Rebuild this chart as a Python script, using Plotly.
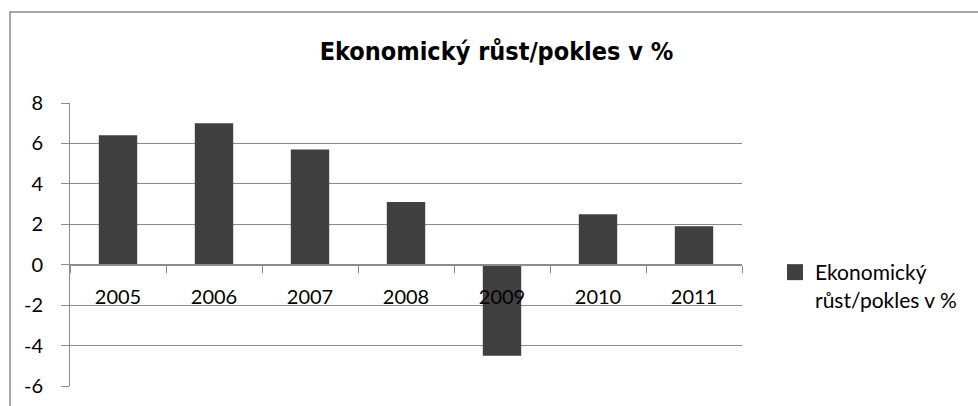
import plotly.graph_objects as go

years = ["2005", "2006", "2007", "2008", "2009", "2010", "2011"]
growth = [6.4, 7.0, 5.7, 3.1, -4.5, 2.5, 1.9]
series_name = "Ekonomický<br>růst/pokles v %"
title_text = "Ekonomický růst/pokles v %"
y_ticks = [-6, -4, -2, 0, 2, 4, 6, 8]
y_tick_text = ["-6", "-4", "-2", "0", "2", "4", "6", "8"]

W, H = 978, 406
L, R, T, B = 70, 236, 103, 20
pw, ph = W - L - R, H - T - B

fig = go.Figure()
fig.add_trace(go.Bar(
    x=years, y=growth, name=series_name,
    marker=dict(color="#404040", line=dict(width=0)),
    showlegend=False,
))
# legend entry with a larger square swatch
fig.add_trace(go.Scatter(
    x=[None], y=[None], mode="markers", name=series_name,
    marker=dict(symbol="square", size=16, color="#404040"),
    showlegend=True,
))

ymin, ymax = -6, 8
grid_c = "#8c8c8c"
fig.update_layout(
    width=W, height=H,
    margin=dict(l=L, r=R, t=T, b=B, autoexpand=False),
    paper_bgcolor="white", plot_bgcolor="white",
    bargap=0.6,
    font=dict(family="Lato, Open Sans, sans-serif", size=20, color="#000000"),
    title=dict(text="<b>" + title_text + "</b>", x=(320 + 673) / 2 / W, xanchor="center",
               y=1 - 51 / H, yanchor="middle",
               font=dict(family="DejaVu Sans Condensed, Liberation Sans Narrow, sans-serif", size=25)),
    xaxis=dict(
        type="category", anchor="free",
        position=(0 - ymin) / (ymax - ymin),
        showline=True, linecolor=grid_c, linewidth=2,
        ticks="outside", ticklen=7, tickcolor=grid_c, tickwidth=1,
        tickson="boundaries", showgrid=False,
        tickfont=dict(size=20), ticklabelstandoff=14,
        range=[-0.5, 6.5],
    ),
    yaxis=dict(
        range=[ymin, ymax], tickvals=y_ticks, ticktext=y_tick_text,
        showline=True, linecolor=grid_c, linewidth=1,
        showgrid=True, gridcolor=grid_c, gridwidth=1,
        ticks="outside", ticklen=8, tickcolor=grid_c,
        zeroline=False, tickfont=dict(size=20), ticklabelstandoff=14,
    ),
    legend=dict(x=(775 - L) / pw, xanchor="left", y=1 - (252 - T) / ph, yanchor="top",
                font=dict(size=21), itemsizing="trace", traceorder="normal",
                bgcolor="rgba(0,0,0,0)", itemwidth=30, valign="top"),
)

# outer chart border
fig.add_shape(type="rect", xref="paper", yref="paper",
              x0=(10 - L) / pw, x1=(1000 - L) / pw,
              y0=-(30) / ph, y1=1 + (T - 12) / ph,
              line=dict(color="#8a8a8a", width=1.5), fillcolor="rgba(0,0,0,0)", layer="below")

fig.write_html("out.html", config={"displayModeBar": False},
               post_script="document.body.style.margin='0';document.body.style.overflow='hidden';")
